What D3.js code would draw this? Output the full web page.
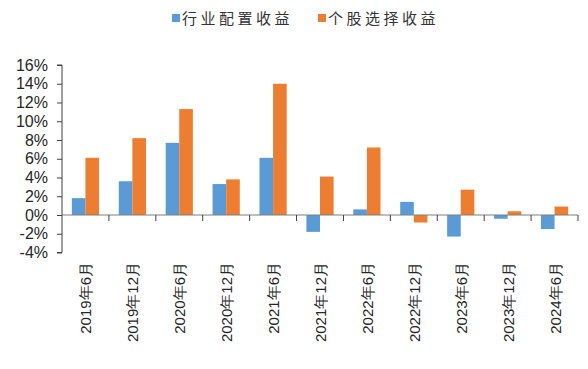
<!DOCTYPE html>
<html><head><meta charset="utf-8">
<script src="https://cdn.jsdelivr.net/npm/d3@7"></script>
<style>body{margin:0;background:#fff}svg{display:block}</style>
</head><body>
<svg id="c" width="588" height="369"></svg>
<script>
const categories = ["2019年6月","2019年12月","2020年6月","2020年12月","2021年6月","2021年12月","2022年6月","2022年12月","2023年6月","2023年12月","2024年6月"];
const industryReturn = [1.8, 3.6, 7.7, 3.3, 6.1, -1.8, 0.6, 1.4, -2.3, -0.4, -1.5];
const stockReturn = [6.1, 8.2, 11.3, 3.8, 14.0, 4.1, 7.2, -0.8, 2.7, 0.4, 0.9];
const seriesNames = ["行业配置收益", "个股选择收益"];
const yTicks = [16, 14, 12, 10, 8, 6, 4, 2, 0, -2, -4];
const colors = ["#5B9BD5", "#ED7D31"];

const svg = d3.select("#c");
const pLeft = 62, pRight = 578, pTop = 65, pBottom = 252.5;
const y = d3.scaleLinear().domain([-4, 16]).range([pBottom, pTop]);
const x = d3.scaleBand().domain(categories).range([pLeft, pRight]).paddingInner(0.42).paddingOuter(0.21);
const xs = d3.scaleBand().domain([0, 1]).range([0, x.bandwidth()]);
const xEdge = d3.scaleBand().domain(categories).range([pLeft, pRight]);

// bars
const data = [industryReturn, stockReturn];
data.forEach((vals, si) => {
  svg.append("g").selectAll("rect").data(vals).join("rect")
    .attr("x", (d, i) => x(categories[i]) + xs(si))
    .attr("width", xs.bandwidth())
    .attr("y", d => y(Math.max(0, d)))
    .attr("height", d => Math.abs(y(d) - y(0)))
    .attr("fill", colors[si]);
});

// y axis
const yAxis = d3.axisLeft(y).tickValues(yTicks).tickSize(5).tickPadding(9).tickFormat(d => d + "%");
const gy = svg.append("g").attr("transform", `translate(${pLeft},0)`).call(yAxis);
gy.select(".domain").attr("stroke", "#404040").attr("d", `M-5,${pTop}H0V${pBottom}H-5`);
gy.selectAll(".tick line").attr("stroke", "#404040");
gy.selectAll("text").attr("font-family", "Liberation Sans, Arial, sans-serif").attr("font-size", 16).attr("fill", "#262626");

// x axis at zero
const gx = svg.append("g").attr("transform", `translate(0,${y(0)})`);
gx.append("line").attr("x1", pLeft).attr("x2", pRight).attr("stroke", "#7f7f7f").attr("stroke-width", 1.2);
gx.selectAll("line.t").data(categories).join("line").attr("class", "t")
  .attr("x1", d => xEdge(d) + xEdge.bandwidth()).attr("x2", d => xEdge(d) + xEdge.bandwidth())
  .attr("y1", 0).attr("y2", 6).attr("stroke", "#404040");

// x labels
svg.append("g").selectAll("text").data(categories).join("text")
  .attr("transform", d => `translate(${x(d) + x.bandwidth() / 2 + 6},262) rotate(-90)`)
  .attr("text-anchor", "end")
  .attr("font-family", "Liberation Sans, Arial, sans-serif")
  .attr("font-size", 15).attr("fill", "#262626")
  .text(d => d);

// legend
const legendX = [172, 318];
seriesNames.forEach((n, i) => {
  svg.append("rect").attr("x", legendX[i]).attr("y", 14).attr("width", 8).attr("height", 8).attr("fill", colors[i]);
  svg.append("text").attr("x", legendX[i] + 10).attr("y", 24)
    .attr("font-family", "Noto Sans CJK SC, sans-serif").attr("font-size", 15)
    .attr("letter-spacing", 3.5).attr("fill", "#333").text(n);
});
</script>
</body></html>
